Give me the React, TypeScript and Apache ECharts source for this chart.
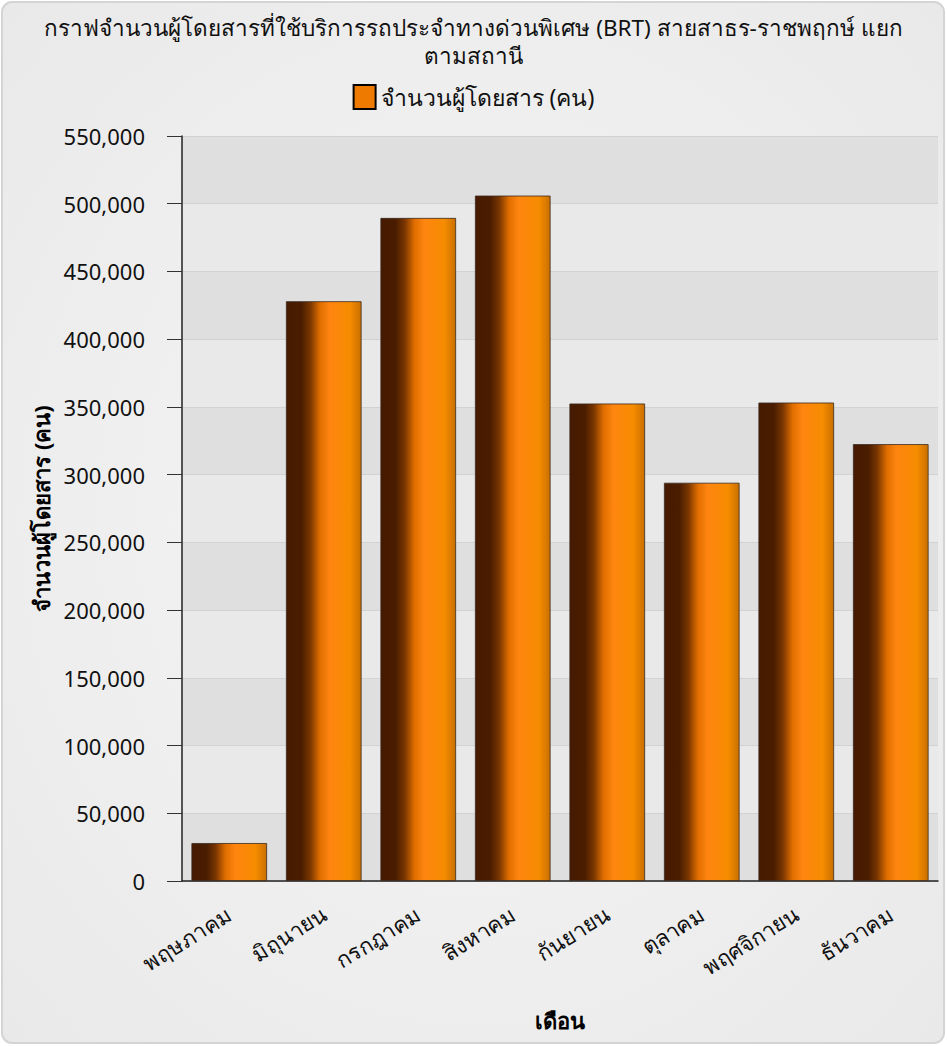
import React, { useEffect, useRef } from "react";
import * as echarts from "echarts";

const titleText =
  "กราฟจำนวนผู้โดยสารที่ใช้บริการรถประจำทางด่วนพิเศษ (BRT) สายสาธร-ราชพฤกษ์ แยก\nตามสถานี";
const seriesName = "จำนวนผู้โดยสาร (คน)";
const xAxisName = "เดือน";
const yAxisName = "จำนวนผู้โดยสาร (คน)";
const months = [
  "พฤษภาคม",
  "มิถุนายน",
  "กรกฎาคม",
  "สิงหาคม",
  "กันยายน",
  "ตุลาคม",
  "พฤศจิกายน",
  "ธันวาคม",
];
const passengers = [28000, 428000, 489500, 506000, 352500, 294000, 353200, 322500];

const FONT = "'Noto Sans', 'DejaVu Sans', sans-serif";

export default function App() {
  const ref = useRef<HTMLDivElement>(null);
  useEffect(() => {
    if (!ref.current) return;
    const chart = echarts.init(ref.current, null, { renderer: "svg" });
    const barGrad = new echarts.graphic.LinearGradient(0, 0, 1, 0, [
      { offset: 0, color: "#451a00" },
      { offset: 0.2, color: "#4a1d00" },
      { offset: 0.32, color: "#7a3600" },
      { offset: 0.45, color: "#e06e00" },
      { offset: 0.58, color: "#ff8510" },
      { offset: 0.85, color: "#f68c00" },
      { offset: 1, color: "#c97000" },
    ]);
    chart.setOption({
      animation: false,
      textStyle: { fontFamily: FONT },
      graphic: [
        {
          type: "rect",
          z: -10,
          silent: true,
          shape: { x: 2, y: 2, width: 942, height: 1041, r: 10 },
          style: {
            fill: new echarts.graphic.RadialGradient(0.5, 0.5, 0.7, [
              { offset: 0, color: "#f6f6f6" },
              { offset: 1, color: "#e9e9e9" },
            ]),
            stroke: "#d4d4d4",
            lineWidth: 2,
          },
        },
      ],
      title: {
        text: titleText,
        left: "center",
        top: 8,
        textStyle: {
          fontSize: 22.5,
          fontWeight: "normal",
          color: "#111",
          lineHeight: 28,
          fontFamily: FONT,
        },
      },
      legend: {
        top: 79,
        left: "center",
        itemWidth: 22,
        itemHeight: 24,
        itemGap: 6,
        textStyle: { fontSize: 23, color: "#111", fontFamily: FONT },
        data: [
          {
            name: seriesName,
            icon: "rect",
            itemStyle: { color: "#ee7a00", borderColor: "#000", borderWidth: 2 },
          },
        ],
      },
      grid: { left: 182, right: 9, top: 136, bottom: 165, containLabel: false },
      xAxis: {
        type: "category",
        data: months,
        name: xAxisName,
        nameLocation: "middle",
        nameGap: 128,
        nameTextStyle: { fontSize: 22, fontWeight: "bold", color: "#000" },
        axisLine: { lineStyle: { color: "#222", width: 1.5 } },
        axisTick: { alignWithLabel: true, length: 16, lineStyle: { color: "#333" } },
        axisLabel: {
          rotate: 32,
          fontSize: 22,
          color: "#111",
          margin: 30,
          fontFamily: FONT,
        },
      },
      yAxis: {
        type: "value",
        min: 0,
        max: 550000,
        interval: 50000,
        name: yAxisName,
        nameLocation: "middle",
        nameGap: 130,
        nameTextStyle: { fontSize: 22, fontWeight: "bold", color: "#000" },
        axisLine: { show: true, lineStyle: { color: "#222", width: 1.5 } },
        axisTick: { show: true, length: 15, inside: false, lineStyle: { color: "#333" } },
        axisLabel: {
          fontSize: 22,
          color: "#111",
          margin: 37,
          formatter: (v: number) => v.toLocaleString("en-US"),
        },
        splitLine: { lineStyle: { color: "#d2d2d2" } },
        splitArea: { show: true, areaStyle: { color: ["#dfdfdf", "#e9e9e9"] } },
      },
      series: [
        {
          name: seriesName,
          type: "bar",
          data: passengers,
          barWidth: "80%",
          itemStyle: { color: barGrad, borderColor: "#3a2a20", borderWidth: 0.8 },
        },
      ],
    });
    return () => chart.dispose();
  }, []);
  return (
    <div
      ref={ref}
      style={{ position: "absolute", left: 0, top: 0, width: 947, height: 1046 }}
    />
  );
}
